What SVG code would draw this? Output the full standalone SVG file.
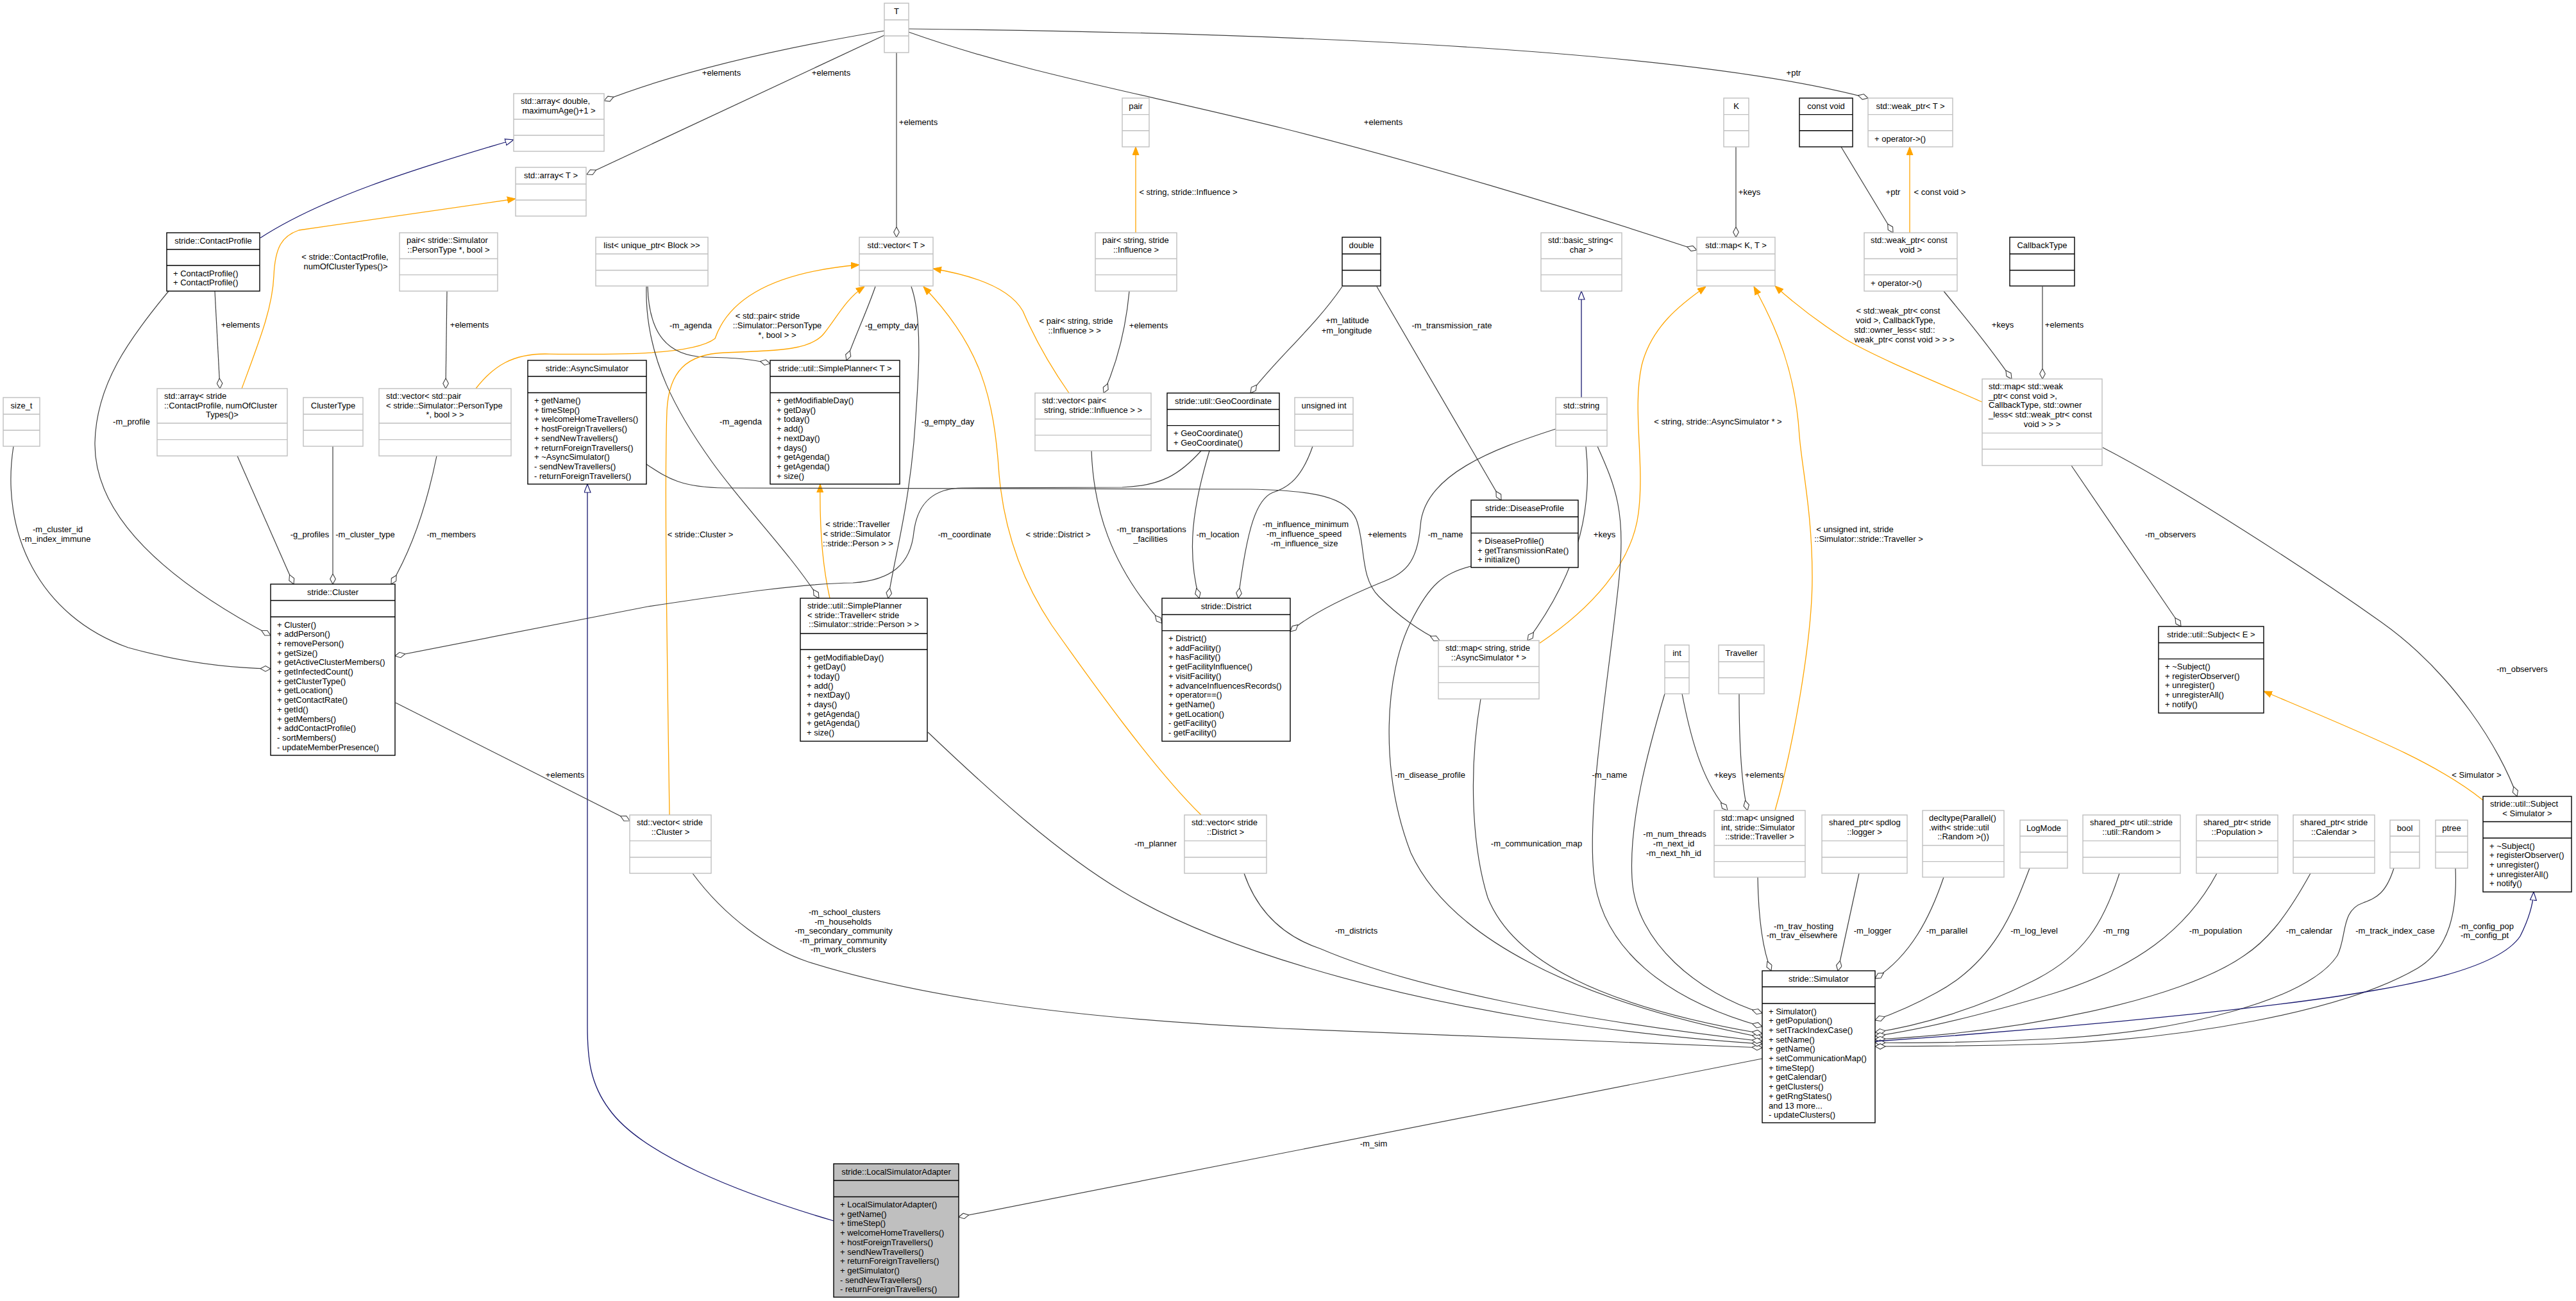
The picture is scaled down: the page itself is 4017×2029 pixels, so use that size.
<svg xmlns="http://www.w3.org/2000/svg" width="4017" height="2029" viewBox="0 0 4017 2029">
<style>
text{font-family:"Liberation Sans",Arial,Helvetica,sans-serif;font-size:13px;fill:#000}
.m{text-anchor:middle}
.nk{fill:#fff;stroke:#000;stroke-width:1.4}
.ng{fill:#fff;stroke:#bfbfbf;stroke-width:1.4}
.nl{fill:#bfbfbf;stroke:#000;stroke-width:1.4}
.sk{fill:none;stroke:#000;stroke-width:1.4}
.sg{fill:none;stroke:#bfbfbf;stroke-width:1.4}
.e{fill:none;stroke:#404040;stroke-width:1.2;marker-end:url(#dia)}
.o{fill:none;stroke:#ffa500;stroke-width:1.3;marker-end:url(#arr)}
.b{fill:none;stroke:#191970;stroke-width:1.3;marker-end:url(#tri)}
</style>
<defs>
<marker id="dia" viewBox="0 0 17 10" refX="16.5" refY="5" markerWidth="17" markerHeight="10" orient="auto" markerUnits="userSpaceOnUse"><path d="M0.5,5 L8.5,0.7 L16.5,5 L8.5,9.3 Z" fill="#fff" stroke="#404040" stroke-width="1.1"/></marker>
<marker id="arr" viewBox="0 0 13 11" refX="13" refY="5.5" markerWidth="13" markerHeight="11" orient="auto" markerUnits="userSpaceOnUse"><path d="M0,0.5 L13,5.5 L0,10.5 Z" fill="#ffa500" stroke="#ffa500" stroke-width="1"/></marker>
<marker id="tri" viewBox="0 0 14 11" refX="13.5" refY="5.5" markerWidth="14" markerHeight="11" orient="auto" markerUnits="userSpaceOnUse"><path d="M0.5,0.5 L13.5,5.5 L0.5,10.5 Z" fill="#fff" stroke="#191970" stroke-width="1.2"/></marker>
</defs>
<rect x="0" y="0" width="4017" height="2029" fill="#fff"/>

<g id="connectors">
<path class="e" d="M1379,48 C1200,78 1050,115 942,157"/>
<path class="e" d="M1379,55 L915,272"/>
<path class="e" d="M1398,82 L1398,370"/>
<path class="e" d="M1417,50 C1600,115 1780,145 2000,200 C2200,250 2450,325 2646,390"/>
<path class="e" d="M1417,45 C1900,50 2600,70 2913,153"/>
<path class="o" d="M1771,363 L1771,229"/>
<path class="o" d="M377,606 C405,530 425,480 427,430 C429,385 440,368 466,359 L804,310"/>
<path class="b" d="M406,371 C500,310 640,265 801,218"/>
<path class="e" d="M335,454 L343,606"/>
<path class="e" d="M263,454 C200,530 150,600 148,690 C146,800 250,900 422,991"/>
<path class="e" d="M21,696 C0,830 60,960 200,1010 C290,1035 370,1042 422,1043"/>
<path class="e" d="M370,711 L458,911"/>
<path class="e" d="M519,696 L519,911"/>
<path class="e" d="M681,711 C665,790 640,860 610,911"/>
<path class="e" d="M697,454 L695,606"/>
<path class="o" d="M742,606 C770,570 800,552 850,552 C950,553 1080,555 1115,528 C1135,470 1200,425 1340,413"/>
<path class="e" d="M1010,447 C1012,520 1040,555 1100,557 C1150,558 1170,560 1201,567"/>
<path class="e" d="M1008,447 C1005,560 1060,650 1110,720 C1160,790 1230,860 1277,933"/>
<path class="e" d="M1365,447 C1350,490 1335,520 1320,562"/>
<path class="e" d="M1421,447 C1440,500 1432,600 1425,690 C1415,800 1395,870 1385,933"/>
<path class="o" d="M1294,933 C1282,880 1278,820 1279,755"/>
<path class="o" d="M1044,1271 C1040,1000 1036,750 1040,640 C1043,580 1070,552 1130,550 C1220,547 1265,545 1285,520 C1305,495 1320,465 1348,447"/>
<path class="o" d="M1873,1271 C1800,1200 1700,1060 1640,975 C1590,900 1565,820 1558,740 C1550,620 1530,540 1440,447"/>
<path class="o" d="M1667,613 C1630,560 1610,520 1595,485 C1575,450 1520,430 1455,419"/>
<path class="e" d="M1761,454 C1755,520 1740,570 1721,613"/>
<path class="e" d="M2093,447 C2050,510 1990,560 1950,613"/>
<path class="e" d="M2147,447 L2341,780"/>
<path class="b" d="M2466,620 L2466,454"/>
<path class="e" d="M2707,229 L2707,370"/>
<path class="e" d="M2871,229 L2952,363"/>
<path class="o" d="M2978,363 L2978,229"/>
<path class="o" d="M2401,1003 C2480,950 2545,880 2555,800 C2565,720 2545,640 2560,570 C2575,510 2620,475 2660,447"/>
<path class="o" d="M2768,1264 C2795,1170 2826,1000 2826,900 C2826,800 2810,730 2806,680 C2800,580 2770,510 2735,447"/>
<path class="o" d="M3091,627 C3030,600 2930,560 2876,528 C2840,505 2800,475 2768,446"/>
<path class="e" d="M3031,454 C3060,490 3095,530 3137,591"/>
<path class="e" d="M3185,447 L3185,591"/>
<path class="e" d="M3230,726 L3401,977"/>
<path class="e" d="M3279,698 C3400,760 3600,890 3713,970 C3826,1050 3900,1170 3925,1242"/>
<path class="o" d="M3872,1248 C3800,1190 3700,1150 3530,1078"/>
<path class="e" d="M2047,696 C2030,745 2010,760 1985,768 C1960,778 1945,820 1931,933"/>
<path class="e" d="M1886,703 C1860,790 1850,860 1870,933"/>
<path class="e" d="M1873,703 C1840,740 1810,758 1750,760 L1500,761 C1450,762 1430,790 1425,830 C1420,880 1390,905 1330,909 C1250,910 1150,925 1010,946 L616,1023"/>
<path class="e" d="M1702,703 C1705,790 1730,880 1812,972"/>
<path class="e" d="M2426,669 C2330,700 2220,740 2215,820 C2210,880 2190,895 2150,910 C2090,935 2040,960 2012,985"/>
<path class="e" d="M2473,696 C2482,780 2470,880 2382,999"/>
<path class="e" d="M2491,696 C2520,760 2535,800 2525,900 C2510,1050 2475,1250 2485,1360 C2495,1480 2600,1560 2748,1601"/>
<path class="e" d="M2294,883 C2250,895 2230,910 2200,970 C2160,1050 2150,1200 2200,1330 C2260,1460 2450,1560 2748,1618"/>
<path class="e" d="M2309,1090 C2290,1200 2295,1320 2320,1400 C2360,1500 2500,1570 2748,1612"/>
<path class="e" d="M1008,724 C1040,745 1060,760 1130,761 L1950,763 C2050,765 2100,775 2115,810 C2130,850 2120,900 2150,930 C2180,960 2215,985 2245,999"/>
<path class="e" d="M2596,1082 C2570,1170 2540,1280 2545,1370 C2550,1470 2650,1550 2748,1580"/>
<path class="e" d="M2623,1082 C2640,1170 2660,1225 2694,1264"/>
<path class="e" d="M2712,1082 C2712,1150 2715,1220 2725,1264"/>
<path class="e" d="M2741,1368 C2742,1430 2748,1480 2762,1514"/>
<path class="e" d="M2899,1362 L2866,1514"/>
<path class="e" d="M3031,1368 C3010,1430 2980,1490 2924,1526"/>
<path class="e" d="M3165,1354 C3140,1420 3110,1500 3020,1548 C2980,1570 2950,1582 2924,1591"/>
<path class="e" d="M3305,1362 C3280,1440 3250,1490 3170,1530 C3080,1575 2990,1600 2924,1610"/>
<path class="e" d="M3457,1362 C3410,1450 3330,1510 3200,1550 C3100,1580 3000,1605 2924,1616"/>
<path class="e" d="M3603,1362 C3560,1440 3530,1470 3500,1490 C3400,1560 3150,1610 2924,1621"/>
<path class="e" d="M3733,1354 C3720,1395 3705,1400 3685,1408 C3650,1420 3660,1460 3645,1490 C3600,1560 3400,1610 3200,1620 C3100,1625 3000,1627 2924,1626"/>
<path class="e" d="M3829,1354 C3832,1420 3820,1480 3770,1510 C3650,1580 3400,1620 3200,1628 C3100,1631 3000,1632 2924,1632"/>
<path class="b" d="M2924,1624 C3100,1612 3500,1580 3700,1545 C3850,1520 3910,1490 3930,1460 C3945,1430 3950,1410 3951,1391"/>
<path class="e" d="M2748,1651 L1495,1898"/>
<path class="b" d="M1300,1904 C1150,1860 1000,1800 950,1730 C920,1690 916,1650 916,1600 L916,755"/>
<path class="e" d="M617,1096 L982,1280"/>
<path class="e" d="M1080,1362 C1130,1430 1200,1480 1260,1500 C1450,1560 1700,1590 2000,1604 C2300,1616 2550,1625 2748,1634"/>
<path class="e" d="M1447,1142 C1550,1240 1650,1330 1750,1390 C1900,1480 2150,1550 2400,1590 C2550,1612 2650,1622 2748,1628"/>
<path class="e" d="M1940,1362 C1960,1420 2000,1460 2060,1480 C2200,1540 2450,1590 2748,1624"/>

<g id="edge-labels">
<text class="m" x="1125" y="117.5">+elements</text>
<text class="m" x="1296" y="117.5">+elements</text>
<text class="m" x="1432" y="195">+elements</text>
<text class="m" x="2157" y="195">+elements</text>
<text class="m" x="2797" y="117.5">+ptr</text>
<text class="m" x="1853" y="303.5">&lt; string, stride::Influence &gt;</text>
<text class="m" x="538" y="404.5">&lt; stride::ContactProfile,</text>
<text class="m" x="539" y="419.5">numOfClusterTypes()&gt;</text>
<text class="m" x="375" y="511">+elements</text>
<text class="m" x="205" y="661.5">-m_profile</text>
<text class="m" x="90" y="829.5">-m_cluster_id</text>
<text class="m" x="88" y="844.5">-m_index_immune</text>
<text class="m" x="483" y="837.5">-g_profiles</text>
<text class="m" x="569.5" y="837.5">-m_cluster_type</text>
<text class="m" x="703.7" y="837.5">-m_members</text>
<text class="m" x="732" y="511">+elements</text>
<text class="m" x="1197" y="496.5">&lt; std::pair&lt; stride</text>
<text class="m" x="1212" y="511.5">::Simulator::PersonType</text>
<text class="m" x="1212" y="526.5">*, bool &gt; &gt;</text>
<text class="m" x="1077" y="511.5">-m_agenda</text>
<text class="m" x="1155" y="662">-m_agenda</text>
<text class="m" x="1390" y="511.5">-g_empty_day</text>
<text class="m" x="1478" y="662">-g_empty_day</text>
<text class="m" x="1337.5" y="822">&lt; stride::Traveller</text>
<text class="m" x="1336" y="837">&lt; stride::Simulator</text>
<text class="m" x="1338" y="851.5">::stride::Person &gt; &gt;</text>
<text class="m" x="1092" y="837.5">&lt; stride::Cluster &gt;</text>
<text class="m" x="1650" y="837.5">&lt; stride::District &gt;</text>
<text class="m" x="1678" y="504.5">&lt; pair&lt; string, stride</text>
<text class="m" x="1675.7" y="519.5">::Influence &gt; &gt;</text>
<text class="m" x="1791" y="511.5">+elements</text>
<text class="m" x="2101" y="504">+m_latitude</text>
<text class="m" x="2100" y="519.5">+m_longitude</text>
<text class="m" x="2264" y="511.5">-m_transmission_rate</text>
<text class="m" x="2728" y="303.5">+keys</text>
<text class="m" x="2952" y="303.5">+ptr</text>
<text class="m" x="3025" y="303.5">&lt; const void &gt;</text>
<text class="m" x="2679" y="661.5">&lt; string, stride::AsyncSimulator * &gt;</text>
<text class="m" x="2892.5" y="829.5">&lt; unsigned int, stride</text>
<text class="m" x="2914" y="844.5">::Simulator::stride::Traveller &gt;</text>
<text class="m" x="2960" y="489">&lt; std::weak_ptr&lt; const</text>
<text class="m" x="2956" y="504">void &gt;, CallbackType,</text>
<text class="m" x="2954.5" y="519">std::owner_less&lt; std::</text>
<text class="m" x="2969.5" y="533.5">weak_ptr&lt; const void &gt; &gt; &gt;</text>
<text class="m" x="3123" y="511">+keys</text>
<text class="m" x="3219" y="511">+elements</text>
<text class="m" x="3384.6" y="837.5">-m_observers</text>
<text class="m" x="3933" y="1048">-m_observers</text>
<text class="m" x="3862" y="1213">&lt; Simulator &gt;</text>
<text class="m" x="2036" y="822">-m_influence_minimum</text>
<text class="m" x="2033.6" y="837">-m_influence_speed</text>
<text class="m" x="2034" y="851.5">-m_influence_size</text>
<text class="m" x="1899" y="837.5">-m_location</text>
<text class="m" x="1504" y="837.5">-m_coordinate</text>
<text class="m" x="1795.5" y="829.5">-m_transportations</text>
<text class="m" x="1794" y="844.5">_facilities</text>
<text class="m" x="2254" y="837.5">-m_name</text>
<text class="m" x="2502" y="837.5">+keys</text>
<text class="m" x="2510" y="1213">-m_name</text>
<text class="m" x="2230" y="1213">-m_disease_profile</text>
<text class="m" x="2396" y="1320">-m_communication_map</text>
<text class="m" x="2163" y="837.5">+elements</text>
<text class="m" x="2611.5" y="1305">-m_num_threads</text>
<text class="m" x="2610" y="1320">-m_next_id</text>
<text class="m" x="2610" y="1335">-m_next_hh_id</text>
<text class="m" x="2690" y="1213">+keys</text>
<text class="m" x="2751" y="1213">+elements</text>
<text class="m" x="2812.7" y="1449.4">-m_trav_hosting</text>
<text class="m" x="2810" y="1463">-m_trav_elsewhere</text>
<text class="m" x="2920" y="1456">-m_logger</text>
<text class="m" x="3036" y="1456">-m_parallel</text>
<text class="m" x="3172" y="1456">-m_log_level</text>
<text class="m" x="3300" y="1456">-m_rng</text>
<text class="m" x="3455" y="1456">-m_population</text>
<text class="m" x="3601" y="1456">-m_calendar</text>
<text class="m" x="3735" y="1456">-m_track_index_case</text>
<text class="m" x="3877" y="1449.4">-m_config_pop</text>
<text class="m" x="3874.6" y="1463">-m_config_pt</text>
<text class="m" x="2142" y="1787.5">-m_sim</text>
<text class="m" x="881" y="1213">+elements</text>
<text class="m" x="1317" y="1427">-m_school_clusters</text>
<text class="m" x="1314.6" y="1441.5">-m_households</text>
<text class="m" x="1315.6" y="1456">-m_secondary_community</text>
<text class="m" x="1315" y="1471">-m_primary_community</text>
<text class="m" x="1315" y="1485">-m_work_clusters</text>
<text class="m" x="1802" y="1320">-m_planner</text>
<text class="m" x="2115" y="1456">-m_districts</text>
</g>
</g>

<g id="nodes">
<g id="n_array_double"><rect class="ng" x="801" y="146" width="141" height="90"/><path class="sg" d="M801,186H942M801,211H942"/><text x="812" y="162">std::array&lt; double,</text><text class="m" x="871.5" y="176.7">maximumAge()+1 &gt;</text></g>
<g id="n_array_T"><rect class="ng" x="804" y="261" width="110" height="76"/><path class="sg" d="M804,287H914M804,312H914"/><text class="m" x="859" y="278">std::array&lt; T &gt;</text></g>
<g id="n_ContactProfile"><rect class="nk" x="260" y="363" width="145" height="91"/><path class="sk" d="M260,389H405M260,414H405"/><text class="m" x="332.5" y="380">stride::ContactProfile</text><text x="270" y="430.5">+ ContactProfile()</text><text x="270" y="445.2">+ ContactProfile()</text></g>
<g id="n_pair_PersonType"><rect class="ng" x="623" y="363" width="153" height="91"/><path class="sg" d="M623,403.5H776M623,428.6H776"/><text x="634" y="379">pair&lt; stride::Simulator</text><text class="m" x="699.5" y="393.7">::PersonType *, bool &gt;</text></g>
<g id="n_list_block"><rect class="ng" x="929" y="370" width="175" height="76"/><path class="sg" d="M929,396H1104M929,421.5H1104"/><text class="m" x="1016.5" y="387">list&lt; unique_ptr&lt; Block &gt;&gt;</text></g>
<g id="n_array_ContactProfile"><rect class="ng" x="245" y="606" width="203" height="105"/><path class="sg" d="M245,660H448M245,685.6H448"/><text x="256" y="622">std::array&lt; stride</text><text x="256" y="636.7">::ContactProfile, numOfCluster</text><text class="m" x="346.5" y="651.4">Types()&gt;</text></g>
<g id="n_ClusterType"><rect class="ng" x="473" y="620" width="93" height="76"/><path class="sg" d="M473,646H566M473,671H566"/><text class="m" x="519.5" y="637">ClusterType</text></g>
<g id="n_vector_pair_PersonType"><rect class="ng" x="591" y="606" width="206" height="105"/><path class="sg" d="M591,660H797M591,685.6H797"/><text x="602" y="622">std::vector&lt; std::pair</text><text x="602" y="636.7">&lt; stride::Simulator::PersonType</text><text class="m" x="694" y="651.4">*, bool &gt; &gt;</text></g>
<g id="n_size_t"><rect class="ng" x="5" y="620" width="57" height="76"/><path class="sg" d="M5,646H62M5,671H62"/><text class="m" x="33.5" y="637">size_t</text></g>
<g id="n_AsyncSimulator"><rect class="nk" x="823" y="562" width="185" height="193"/><path class="sk" d="M823,587H1008M823,612.5H1008"/><text class="m" x="915.5" y="578.5">stride::AsyncSimulator</text><text x="833" y="629"><tspan x="833" dy="0">+ getName()</tspan><tspan x="833" dy="14.7">+ timeStep()</tspan><tspan x="833" dy="14.7">+ welcomeHomeTravellers()</tspan><tspan x="833" dy="14.7">+ hostForeignTravellers()</tspan><tspan x="833" dy="14.7">+ sendNewTravellers()</tspan><tspan x="833" dy="14.7">+ returnForeignTravellers()</tspan><tspan x="833" dy="14.7">+ ~AsyncSimulator()</tspan><tspan x="833" dy="14.7">- sendNewTravellers()</tspan><tspan x="833" dy="14.7">- returnForeignTravellers()</tspan></text></g>
<g id="n_T"><rect class="ng" x="1379" y="5" width="38" height="77"/><path class="sg" d="M1379,31H1417M1379,56H1417"/><text class="m" x="1398" y="22">T</text></g>
<g id="n_vector_T"><rect class="ng" x="1340" y="370" width="115" height="76"/><path class="sg" d="M1340,396H1455M1340,421.5H1455"/><text class="m" x="1397.5" y="387">std::vector&lt; T &gt;</text></g>
<g id="n_pair"><rect class="ng" x="1750" y="153" width="42" height="76"/><path class="sg" d="M1750,178.6H1792M1750,203.7H1792"/><text class="m" x="1771" y="170">pair</text></g>
<g id="n_pair_Influence"><rect class="ng" x="1708" y="363" width="127" height="91"/><path class="sg" d="M1708,403.5H1835M1708,428.6H1835"/><text x="1719" y="379">pair&lt; string, stride</text><text class="m" x="1771.5" y="393.7">::Influence &gt;</text></g>
<g id="n_SimplePlanner_T"><rect class="nk" x="1201" y="562" width="202" height="193"/><path class="sk" d="M1201,587H1403M1201,612.5H1403"/><text class="m" x="1302" y="578.5">stride::util::SimplePlanner&lt; T &gt;</text><text x="1211" y="629"><tspan x="1211" dy="0">+ getModifiableDay()</tspan><tspan x="1211" dy="14.7">+ getDay()</tspan><tspan x="1211" dy="14.7">+ today()</tspan><tspan x="1211" dy="14.7">+ add()</tspan><tspan x="1211" dy="14.7">+ nextDay()</tspan><tspan x="1211" dy="14.7">+ days()</tspan><tspan x="1211" dy="14.7">+ getAgenda()</tspan><tspan x="1211" dy="14.7">+ getAgenda()</tspan><tspan x="1211" dy="14.7">+ size()</tspan></text></g>
<g id="n_vector_pair_Influence"><rect class="ng" x="1614" y="613" width="181" height="90"/><path class="sg" d="M1614,653.5H1795M1614,678.6H1795"/><text x="1625" y="629">std::vector&lt; pair&lt;</text><text class="m" x="1704.5" y="643.7">string, stride::Influence &gt; &gt;</text></g>
<g id="n_GeoCoordinate"><rect class="nk" x="1820" y="613" width="175" height="90"/><path class="sk" d="M1820,638.5H1995M1820,663.6H1995"/><text class="m" x="1907.5" y="630">stride::util::GeoCoordinate</text><text x="1830" y="680">+ GeoCoordinate()</text><text x="1830" y="694.7">+ GeoCoordinate()</text></g>
<g id="n_double"><rect class="nk" x="2093" y="370" width="60" height="76"/><path class="sk" d="M2093,396H2153M2093,421.5H2153"/><text class="m" x="2123" y="387">double</text></g>
<g id="n_basic_string"><rect class="ng" x="2403" y="363" width="126" height="91"/><path class="sg" d="M2403,403.5H2529M2403,428.6H2529"/><text x="2414" y="379">std::basic_string&lt;</text><text class="m" x="2466" y="393.7">char &gt;</text></g>
<g id="n_K"><rect class="ng" x="2688" y="153" width="39" height="76"/><path class="sg" d="M2688,178.6H2727M2688,203.7H2727"/><text class="m" x="2707.5" y="170">K</text></g>
<g id="n_const_void"><rect class="nk" x="2806" y="153" width="83" height="76"/><path class="sk" d="M2806,178.6H2889M2806,203.7H2889"/><text class="m" x="2847.5" y="170">const void</text></g>
<g id="n_weak_ptr_T"><rect class="ng" x="2913" y="153" width="132" height="76"/><path class="sg" d="M2913,178.6H3045M2913,203.7H3045"/><text class="m" x="2979" y="170">std::weak_ptr&lt; T &gt;</text><text x="2923" y="220.5">+ operator-&gt;()</text></g>
<g id="n_map_K_T"><rect class="ng" x="2646" y="370" width="122" height="76"/><path class="sg" d="M2646,396H2768M2646,421.5H2768"/><text class="m" x="2707" y="387">std::map&lt; K, T &gt;</text></g>
<g id="n_weak_ptr_const_void"><rect class="ng" x="2907" y="363" width="145" height="91"/><path class="sg" d="M2907,403.5H3052M2907,428.6H3052"/><text x="2917" y="379">std::weak_ptr&lt; const</text><text class="m" x="2979.5" y="393.7">void &gt;</text><text x="2917" y="445.5">+ operator-&gt;()</text></g>
<g id="n_unsigned_int"><rect class="ng" x="2019" y="620" width="91" height="76"/><path class="sg" d="M2019,646H2110M2019,671H2110"/><text class="m" x="2064.5" y="637">unsigned int</text></g>
<g id="n_std_string"><rect class="ng" x="2426" y="620" width="80" height="76"/><path class="sg" d="M2426,646H2506M2426,671H2506"/><text class="m" x="2466" y="637">std::string</text></g>
<g id="n_CallbackType"><rect class="nk" x="3134" y="370" width="101" height="76"/><path class="sk" d="M3134,396H3235M3134,421.5H3235"/><text class="m" x="3184.5" y="387">CallbackType</text></g>
<g id="n_map_weak_ptr"><rect class="ng" x="3091" y="591" width="187" height="135"/><path class="sg" d="M3091,675.4H3278M3091,700.5H3278"/><text x="3101" y="607">std::map&lt; std::weak</text><text x="3101" y="621.7">_ptr&lt; const void &gt;,</text><text x="3101" y="636.4">CallbackType, std::owner</text><text x="3101" y="651.1">_less&lt; std::weak_ptr&lt; const</text><text class="m" x="3184.5" y="665.8">void &gt; &gt; &gt;</text></g>
<g id="n_Cluster"><rect class="nk" x="422" y="911" width="194" height="267"/><path class="sk" d="M422,936.5H616M422,962H616"/><text class="m" x="519" y="928">stride::Cluster</text><text x="432" y="978.5"><tspan x="432" dy="0">+ Cluster()</tspan><tspan x="432" dy="14.7">+ addPerson()</tspan><tspan x="432" dy="14.7">+ removePerson()</tspan><tspan x="432" dy="14.7">+ getSize()</tspan><tspan x="432" dy="14.7">+ getActiveClusterMembers()</tspan><tspan x="432" dy="14.7">+ getInfectedCount()</tspan><tspan x="432" dy="14.7">+ getClusterType()</tspan><tspan x="432" dy="14.7">+ getLocation()</tspan><tspan x="432" dy="14.7">+ getContactRate()</tspan><tspan x="432" dy="14.7">+ getId()</tspan><tspan x="432" dy="14.7">+ getMembers()</tspan><tspan x="432" dy="14.7">+ addContactProfile()</tspan><tspan x="432" dy="14.7">- sortMembers()</tspan><tspan x="432" dy="14.7">- updateMemberPresence()</tspan></text></g>
<g id="n_SimplePlanner_Traveller"><rect class="nk" x="1248" y="933" width="198" height="223"/><path class="sk" d="M1248,988H1446M1248,1013H1446"/><text x="1259" y="949">stride::util::SimplePlanner</text><text x="1259" y="963.7">&lt; stride::Traveller&lt; stride</text><text class="m" x="1347" y="978.4">::Simulator::stride::Person &gt; &gt;</text><text x="1258" y="1029.5"><tspan x="1258" dy="0">+ getModifiableDay()</tspan><tspan x="1258" dy="14.7">+ getDay()</tspan><tspan x="1258" dy="14.7">+ today()</tspan><tspan x="1258" dy="14.7">+ add()</tspan><tspan x="1258" dy="14.7">+ nextDay()</tspan><tspan x="1258" dy="14.7">+ days()</tspan><tspan x="1258" dy="14.7">+ getAgenda()</tspan><tspan x="1258" dy="14.7">+ getAgenda()</tspan><tspan x="1258" dy="14.7">+ size()</tspan></text></g>
<g id="n_District"><rect class="nk" x="1812" y="933" width="200" height="223"/><path class="sk" d="M1812,958.5H2012M1812,983.6H2012"/><text class="m" x="1912" y="950">stride::District</text><text x="1822" y="1000"><tspan x="1822" dy="0">+ District()</tspan><tspan x="1822" dy="14.7">+ addFacility()</tspan><tspan x="1822" dy="14.7">+ hasFacility()</tspan><tspan x="1822" dy="14.7">+ getFacilityInfluence()</tspan><tspan x="1822" dy="14.7">+ visitFacility()</tspan><tspan x="1822" dy="14.7">+ advanceInfluencesRecords()</tspan><tspan x="1822" dy="14.7">+ operator==()</tspan><tspan x="1822" dy="14.7">+ getName()</tspan><tspan x="1822" dy="14.7">+ getLocation()</tspan><tspan x="1822" dy="14.7">- getFacility()</tspan><tspan x="1822" dy="14.7">- getFacility()</tspan></text></g>
<g id="n_vector_Cluster"><rect class="ng" x="982" y="1271" width="127" height="91"/><path class="sg" d="M982,1311.4H1109M982,1337H1109"/><text x="993" y="1287">std::vector&lt; stride</text><text class="m" x="1045.5" y="1301.7">::Cluster &gt;</text></g>
<g id="n_vector_District"><rect class="ng" x="1847" y="1271" width="128" height="91"/><path class="sg" d="M1847,1311.4H1975M1847,1337H1975"/><text x="1858" y="1287">std::vector&lt; stride</text><text class="m" x="1911" y="1301.7">::District &gt;</text></g>
<g id="n_DiseaseProfile"><rect class="nk" x="2294" y="780" width="167" height="105"/><path class="sk" d="M2294,806H2461M2294,831.4H2461"/><text class="m" x="2377.5" y="797">stride::DiseaseProfile</text><text x="2304" y="848">+ DiseaseProfile()</text><text x="2304" y="862.7">+ getTransmissionRate()</text><text x="2304" y="877.4">+ initialize()</text></g>
<g id="n_map_AsyncSimulator"><rect class="ng" x="2243" y="999" width="157" height="91"/><path class="sg" d="M2243,1039.5H2400M2243,1064.6H2400"/><text x="2254" y="1015">std::map&lt; string, stride</text><text class="m" x="2321.5" y="1029.7">::AsyncSimulator * &gt;</text></g>
<g id="n_int"><rect class="ng" x="2596" y="1006" width="38" height="76"/><path class="sg" d="M2596,1032H2634M2596,1057H2634"/><text class="m" x="2615" y="1023">int</text></g>
<g id="n_Traveller"><rect class="ng" x="2680" y="1006" width="71" height="76"/><path class="sg" d="M2680,1032H2751M2680,1057H2751"/><text class="m" x="2715.5" y="1023">Traveller</text></g>
<g id="n_map_Traveller"><rect class="ng" x="2673" y="1264" width="142" height="104"/><path class="sg" d="M2673,1318.5H2815M2673,1343.6H2815"/><text x="2684" y="1280">std::map&lt; unsigned</text><text x="2684" y="1294.7">int, stride::Simulator</text><text class="m" x="2744" y="1309.4">::stride::Traveller &gt;</text></g>
<g id="n_logger"><rect class="ng" x="2841" y="1271" width="133" height="91"/><path class="sg" d="M2841,1311.4H2974M2841,1337H2974"/><text x="2852" y="1287">shared_ptr&lt; spdlog</text><text class="m" x="2907.5" y="1301.7">::logger &gt;</text></g>
<g id="n_decltype"><rect class="ng" x="2998" y="1264" width="127" height="104"/><path class="sg" d="M2998,1318.5H3125M2998,1343.6H3125"/><text x="3008" y="1280">decltype(Parallel()</text><text x="3008" y="1294.7">.with&lt; stride::util</text><text class="m" x="3061.5" y="1309.4">::Random &gt;())</text></g>
<g id="n_LogMode"><rect class="ng" x="3150" y="1279" width="74" height="75"/><path class="sg" d="M3150,1304H3224M3150,1329H3224"/><text class="m" x="3187" y="1296">LogMode</text></g>
<g id="n_rng"><rect class="ng" x="3248" y="1271" width="152" height="91"/><path class="sg" d="M3248,1311.4H3400M3248,1337H3400"/><text x="3259" y="1287">shared_ptr&lt; util::stride</text><text class="m" x="3324" y="1301.7">::util::Random &gt;</text></g>
<g id="n_population"><rect class="ng" x="3425" y="1271" width="127" height="91"/><path class="sg" d="M3425,1311.4H3552M3425,1337H3552"/><text x="3436" y="1287">shared_ptr&lt; stride</text><text class="m" x="3488.5" y="1301.7">::Population &gt;</text></g>
<g id="n_calendar"><rect class="ng" x="3576" y="1271" width="127" height="91"/><path class="sg" d="M3576,1311.4H3703M3576,1337H3703"/><text x="3587" y="1287">shared_ptr&lt; stride</text><text class="m" x="3639.5" y="1301.7">::Calendar &gt;</text></g>
<g id="n_bool"><rect class="ng" x="3727" y="1279" width="46" height="75"/><path class="sg" d="M3727,1304H3773M3727,1329H3773"/><text class="m" x="3750" y="1296">bool</text></g>
<g id="n_ptree"><rect class="ng" x="3798" y="1279" width="50" height="75"/><path class="sg" d="M3798,1304H3848M3798,1329H3848"/><text class="m" x="3823" y="1296">ptree</text></g>
<g id="n_Subject_Simulator"><rect class="nk" x="3872" y="1242" width="138" height="149"/><path class="sk" d="M3872,1281.5H4010M3872,1307H4010"/><text x="3883" y="1258">stride::util::Subject</text><text class="m" x="3941" y="1272.7">&lt; Simulator &gt;</text><text x="3882" y="1323.5"><tspan x="3882" dy="0">+ ~Subject()</tspan><tspan x="3882" dy="14.7">+ registerObserver()</tspan><tspan x="3882" dy="14.7">+ unregister()</tspan><tspan x="3882" dy="14.7">+ unregisterAll()</tspan><tspan x="3882" dy="14.7">+ notify()</tspan></text></g>
<g id="n_Subject_E"><rect class="nk" x="3366" y="977" width="164" height="135"/><path class="sk" d="M3366,1002.5H3530M3366,1027.6H3530"/><text class="m" x="3448" y="994">stride::util::Subject&lt; E &gt;</text><text x="3376" y="1044"><tspan x="3376" dy="0">+ ~Subject()</tspan><tspan x="3376" dy="14.7">+ registerObserver()</tspan><tspan x="3376" dy="14.7">+ unregister()</tspan><tspan x="3376" dy="14.7">+ unregisterAll()</tspan><tspan x="3376" dy="14.7">+ notify()</tspan></text></g>
<g id="n_LocalSimulatorAdapter"><rect class="nl" x="1300" y="1815" width="195" height="208"/><path class="sk" d="M1300,1841H1495M1300,1866.5H1495"/><text class="m" x="1397.5" y="1832">stride::LocalSimulatorAdapter</text><text x="1310" y="1883"><tspan x="1310" dy="0">+ LocalSimulatorAdapter()</tspan><tspan x="1310" dy="14.7">+ getName()</tspan><tspan x="1310" dy="14.7">+ timeStep()</tspan><tspan x="1310" dy="14.7">+ welcomeHomeTravellers()</tspan><tspan x="1310" dy="14.7">+ hostForeignTravellers()</tspan><tspan x="1310" dy="14.7">+ sendNewTravellers()</tspan><tspan x="1310" dy="14.7">+ returnForeignTravellers()</tspan><tspan x="1310" dy="14.7">+ getSimulator()</tspan><tspan x="1310" dy="14.7">- sendNewTravellers()</tspan><tspan x="1310" dy="14.7">- returnForeignTravellers()</tspan></text></g>
<g id="n_Simulator"><rect class="nk" x="2748" y="1514" width="176" height="237"/><path class="sk" d="M2748,1539H2924M2748,1565H2924"/><text class="m" x="2836" y="1531">stride::Simulator</text><text x="2758" y="1581.5"><tspan x="2758" dy="0">+ Simulator()</tspan><tspan x="2758" dy="14.7">+ getPopulation()</tspan><tspan x="2758" dy="14.7">+ setTrackIndexCase()</tspan><tspan x="2758" dy="14.7">+ setName()</tspan><tspan x="2758" dy="14.7">+ getName()</tspan><tspan x="2758" dy="14.7">+ setCommunicationMap()</tspan><tspan x="2758" dy="14.7">+ timeStep()</tspan><tspan x="2758" dy="14.7">+ getCalendar()</tspan><tspan x="2758" dy="14.7">+ getClusters()</tspan><tspan x="2758" dy="14.7">+ getRngStates()</tspan><tspan x="2758" dy="14.7">and 13 more...</tspan><tspan x="2758" dy="14.7">- updateClusters()</tspan></text></g>
</g>
</svg>
